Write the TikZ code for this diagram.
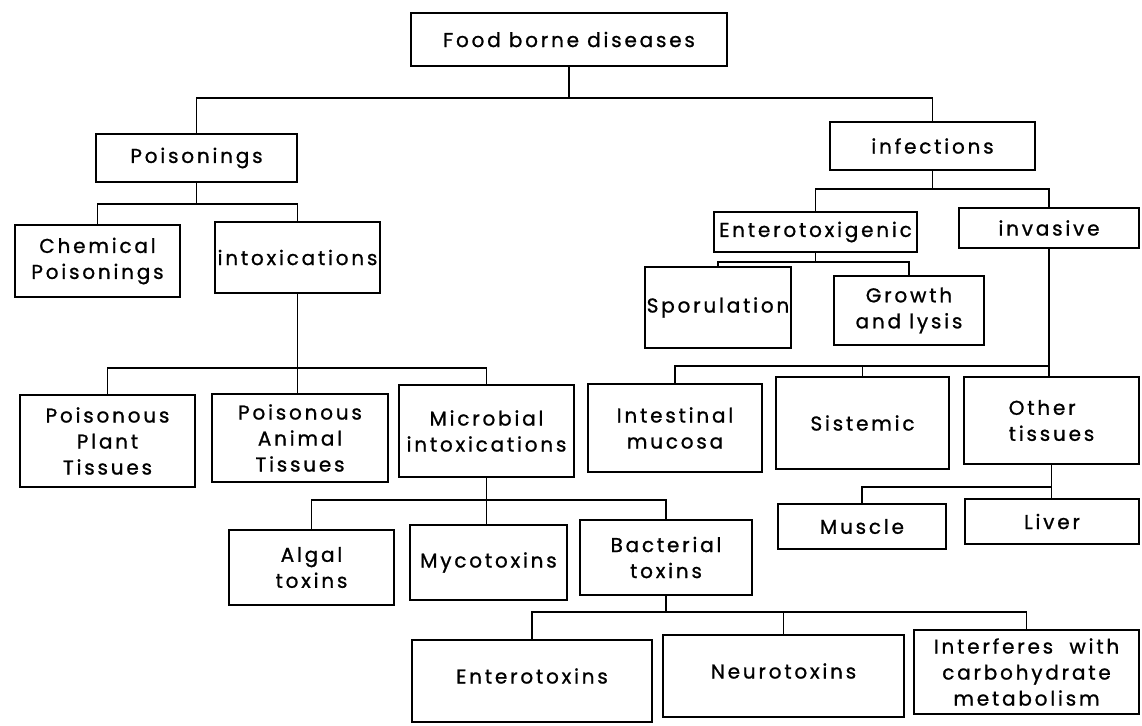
\documentclass[tikz,border=0pt]{standalone}
\usepackage{fontspec}
\setmainfont{Poppins}[LetterSpace=14, FakeBold=1]
\begin{document}
\begin{tikzpicture}[x=1pt,y=-1pt,
  box/.style={draw, line width=1.9pt, inner sep=0pt, align=center,
    font=\fontsize{20}{26}\selectfont},
  lbl/.style={inner sep=0pt, align=center, font=\fontsize{20}{26}\selectfont},
  conn/.style={line width=1.5pt}]
\useasboundingbox (0,0) rectangle (1142,725);

% level 0
\node[box, minimum width=316pt, minimum height=53pt] (food) at (569,39.5) {Food borne diseases};

% level 1
\node[box, minimum width=201pt, minimum height=48pt] (pois) at (196.5,158) {Poisonings};
\node[box, minimum width=205pt, minimum height=48pt] (infect) at (932.5,146) {infections};

% level 2
\node[box, minimum width=165pt, minimum height=72pt] (chem) at (97.5,261) {Chemical\\Poisonings};
\node[box, minimum width=165pt, minimum height=71pt] (intox) at (297.5,257.5) {intoxications};
\node[box, minimum width=203pt, minimum height=40pt] (entero) at (815.5,232) {Enterotoxigenic};
\node[box, minimum width=180pt, minimum height=40pt] (invas) at (1049,228) {invasive};
\node[box, minimum width=146pt, minimum height=81pt] (spor) at (718,307.5) {Sporulation};
\node[box, minimum width=150pt, minimum height=69pt] (growth) at (909,310.5) {Growth\\and lysis};

% level 3
\node[box, minimum width=175pt, minimum height=92pt] (plant) at (107.5,441) {Poisonous\\Plant\\Tissues};
\node[box, minimum width=176pt, minimum height=88pt] (animal) at (300,438) {Poisonous\\Animal\\Tissues};
\node[box, minimum width=175pt, minimum height=92pt] (micro) at (486.5,431) {Microbial\\intoxications};
\node[box, minimum width=174pt, minimum height=88pt] (intest) at (675,428) {Intestinal\\mucosa};
\node[box, minimum width=173pt, minimum height=92pt] (sist) at (862.5,423) {Sistemic};
\node[box, minimum width=175pt, minimum height=87pt, align=left] (other) at (1051.5,420.5) {Other\\tissues};

% level 4
\node[box, minimum width=165pt, minimum height=75pt] (algal) at (311.5,567.5) {Algal\\toxins};
\node[box, minimum width=157pt, minimum height=75pt] (myco) at (488.5,562.5) {Mycotoxins};
\node[box, minimum width=172pt, minimum height=75pt] (bact) at (666,557.5) {Bacterial\\toxins};
\node[box, minimum width=168pt, minimum height=45pt] (muscle) at (862,526.5) {Muscle};
\node[box, minimum width=174pt, minimum height=45pt] (liver) at (1052,521.5) {Liver};

% level 5
\node[box, minimum width=240pt, minimum height=82pt] (enterox) at (532,681) {};
\node[lbl] (enterox-t) at ([yshift=5pt]enterox.center) {Enterotoxins};
\node[box, minimum width=241pt, minimum height=82pt] (neuro) at (783.5,676) {};
\node[lbl] (neuro-t) at ([yshift=5pt]neuro.center) {Neurotoxins};
\node[box, minimum width=225pt, minimum height=84pt] (interf) at (1026.5,672) {Interferes \ with\\carbohydrate\\metabolism};

% heights of the horizontal bars
\coordinate (yA) at (0,98);
\coordinate (yB) at (0,204);
\coordinate (yC) at (0,189);
\coordinate (yD) at (0,262);
\coordinate (yE) at (0,368);
\coordinate (yF) at (0,366);
\coordinate (yG) at (0,500);
\coordinate (yH) at (0,487);
\coordinate (yI) at (0,612);

% Food borne diseases
\draw[conn] (food.south) -- (food.south |- yA);
\draw[conn] (pois.north) -- (pois.north |- yA) -- (infect.north |- yA) -- (infect.north);

% Poisonings
\draw[conn] (pois.south) -- (pois.south |- yB);
\draw[conn] (chem.north) -- (chem.north |- yB) -- (intox.north |- yB) -- (intox.north);

% infections
\draw[conn] (infect.south) -- (infect.south |- yC);
\draw[conn] (entero.north) -- (entero.north |- yC) -- (invas.north |- yC) -- (invas.north);

% Enterotoxigenic
\draw[conn] (entero.south) -- (entero.south |- yD);
\draw[conn] (spor.north) -- (spor.north |- yD) -- (growth.north |- yD) -- (growth.north);

% intoxications
\draw[conn] (intox.south) -- (intox.south |- animal.north);
\draw[conn] (plant.north) -- (plant.north |- yE) -- (micro.north |- yE) -- (micro.north);

% invasive
\draw[conn] (invas.south) -- (invas.south |- other.north);
\draw[conn] (intest.north) -- (intest.north |- yF) -- (invas.south |- yF);
\draw[conn] (sist.north) -- (sist.north |- yF);

% Microbial intoxications
\draw[conn] (micro.south) -- (micro.south |- myco.north);
\draw[conn] (algal.north) -- (algal.north |- yG) -- (bact.north |- yG) -- (bact.north);

% Other tissues
\draw[conn] (other.south) -- (other.south |- liver.north);
\draw[conn] (muscle.north) -- (muscle.north |- yH) -- (other.south |- yH);

% Bacterial toxins
\draw[conn] (bact.south) -- (bact.south |- yI);
\draw[conn] (enterox.north) -- (enterox.north |- yI) -- (interf.north |- yI) -- (interf.north);
\draw[conn] (neuro.north) -- (neuro.north |- yI);
\end{tikzpicture}
\end{document}
